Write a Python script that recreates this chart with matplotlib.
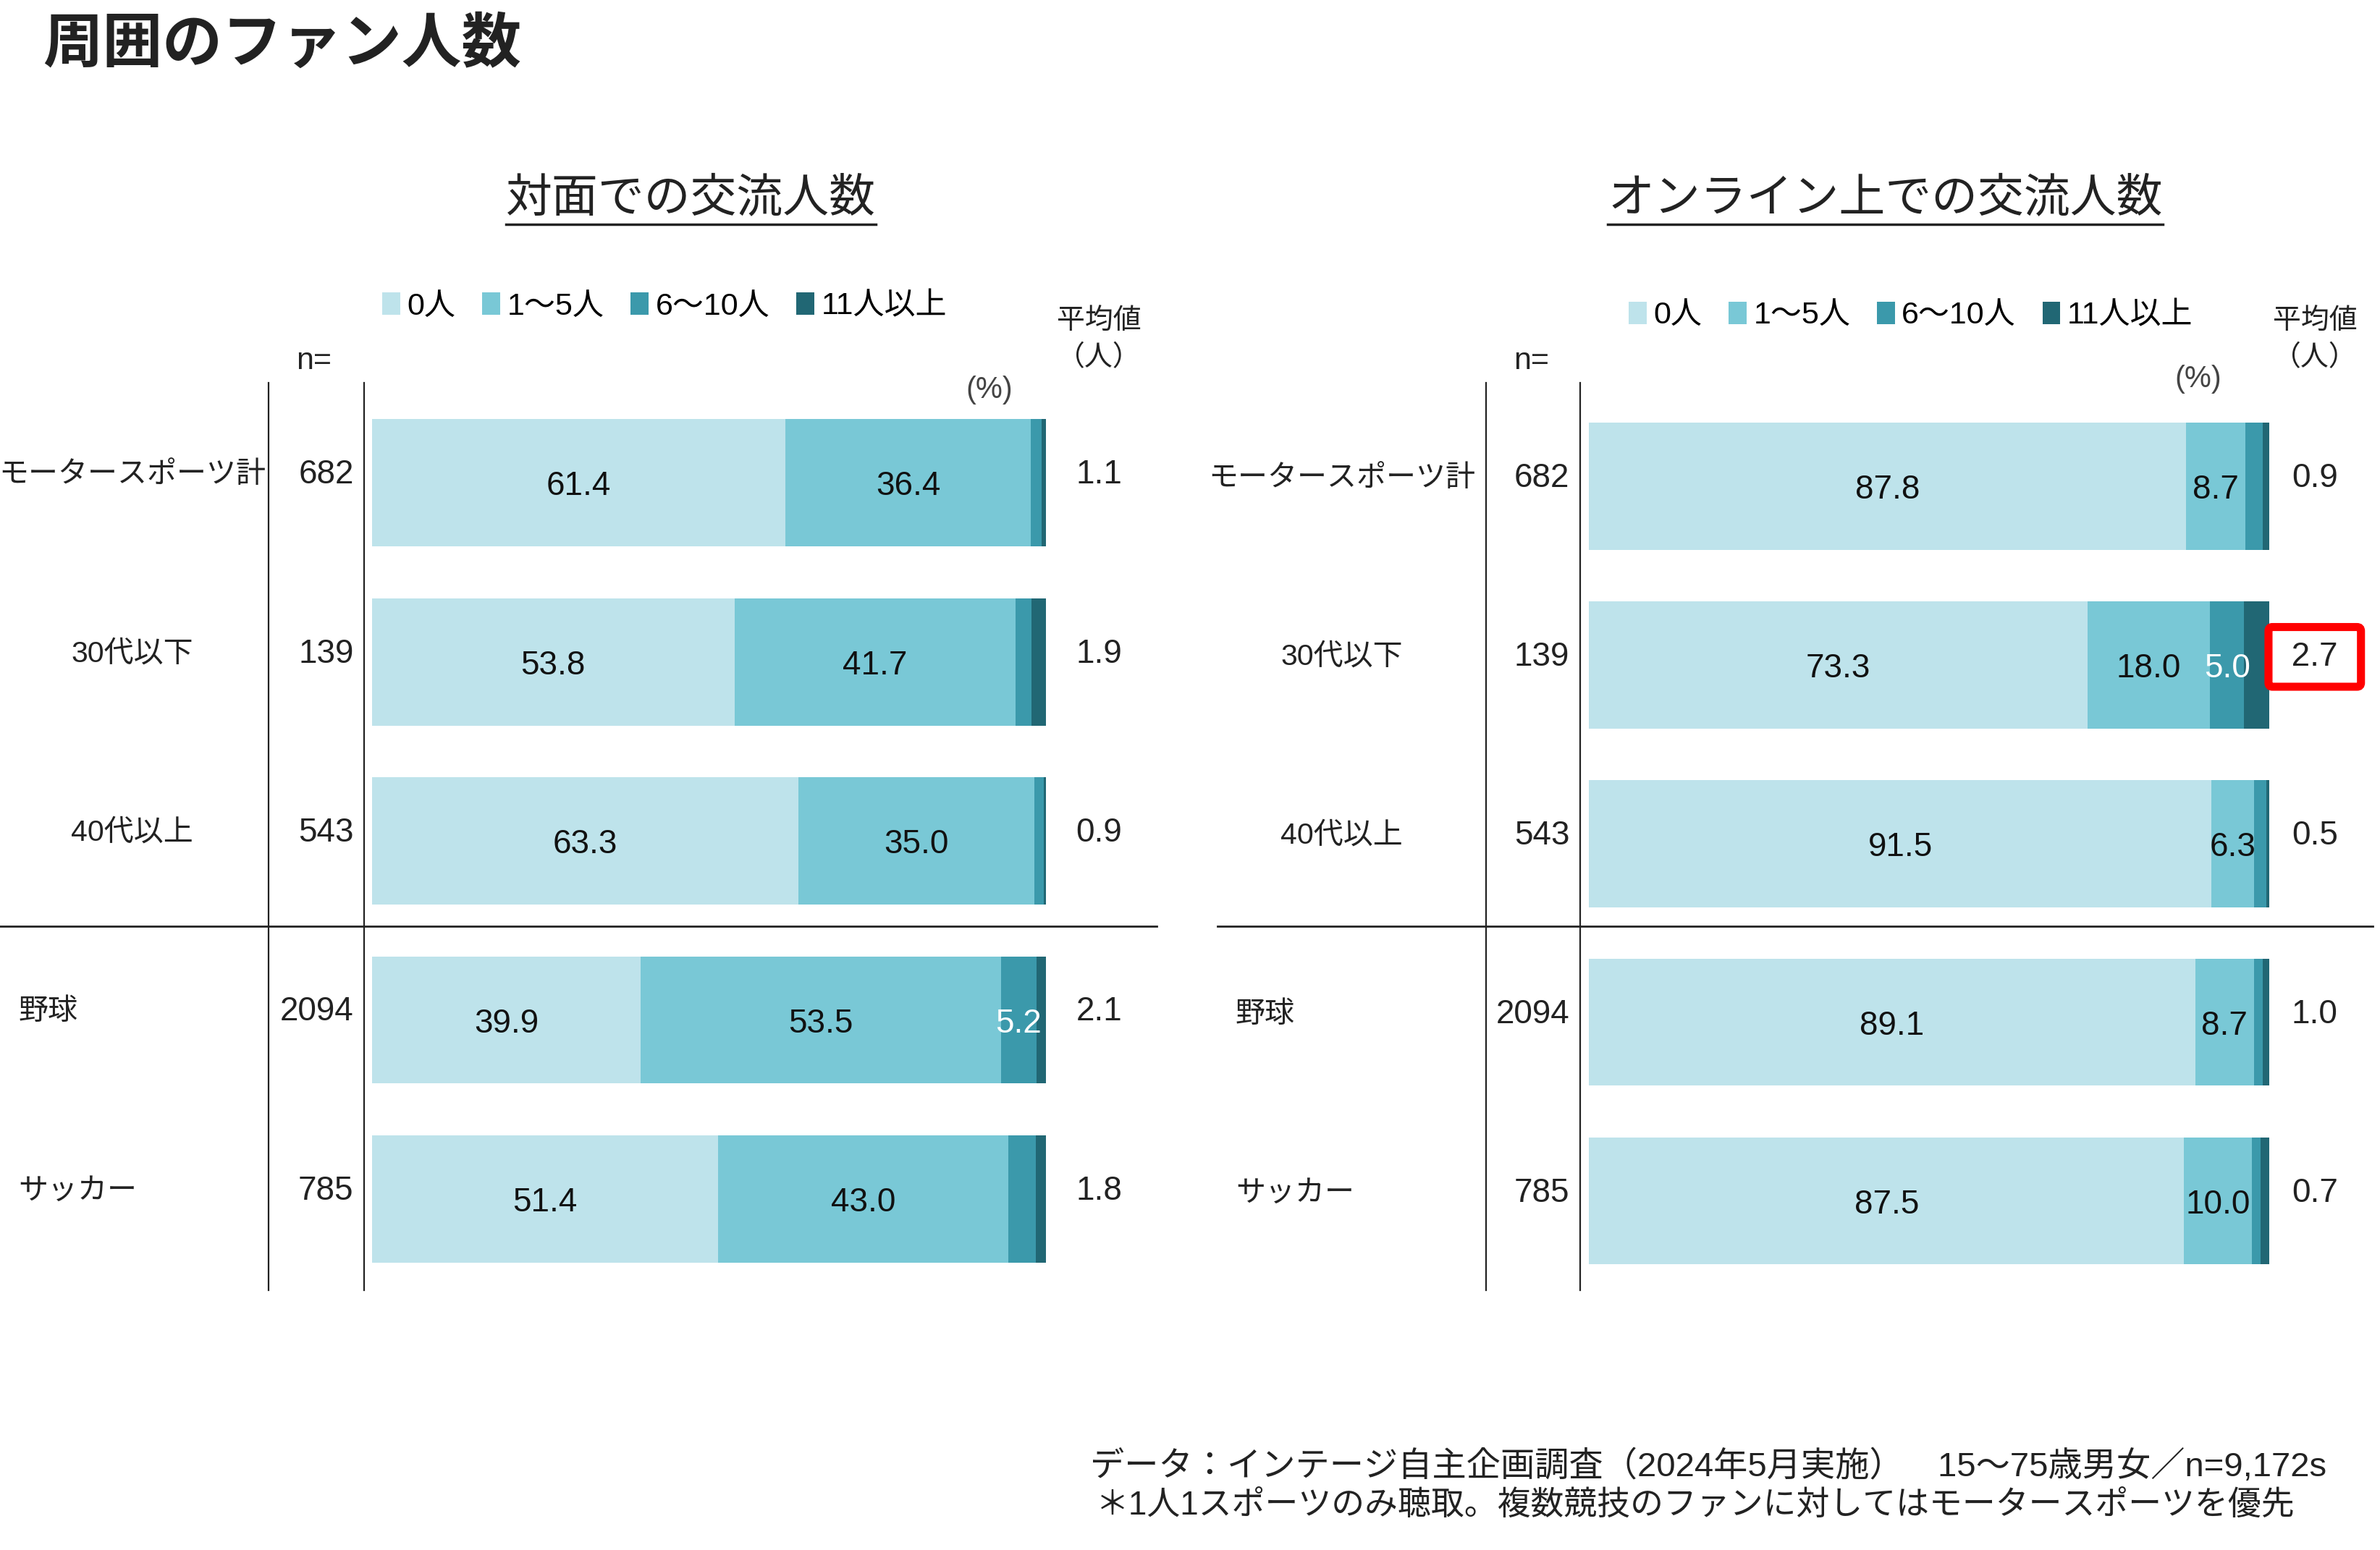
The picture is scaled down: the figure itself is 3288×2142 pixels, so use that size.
import numpy as np
import matplotlib
matplotlib.use("Agg")
import matplotlib.pyplot as plt
import matplotlib.transforms as mtrans
from matplotlib.lines import Line2D
from matplotlib.patches import Patch

plt.rcParams['font.family'] = ['Liberation Sans', 'Noto Sans CJK JP']

# ---- data ----
categories = ["モータースポーツ計", "30代以下", "40代以上", "野球", "サッカー"]
n_values = [682, 139, 543, 2094, 785]
legend_labels = ["0人", "1～5人", "6～10人", "11人以上"]

face_0 = [61.4, 53.8, 63.3, 39.9, 51.4]
face_1_5 = [36.4, 41.7, 35.0, 53.5, 43.0]
face_6_10 = [1.6, 2.4, 1.4, 5.2, 4.1]
face_11 = [0.6, 2.1, 0.3, 1.4, 1.5]
face_avg = [1.1, 1.9, 0.9, 2.1, 1.8]

online_0 = [87.8, 73.3, 91.5, 89.1, 87.5]
online_1_5 = [8.7, 18.0, 6.3, 8.7, 10.0]
online_6_10 = [2.5, 5.0, 1.8, 1.2, 1.2]
online_11 = [1.0, 3.7, 0.4, 1.0, 1.3]
online_avg = [0.9, 2.7, 0.5, 1.0, 0.7]

colors = ["#BEE3EB", "#79C8D6", "#3B99AB", "#216774"]
txt_colors = ["#111111", "#111111", "white", "white"]

# layout grid in pixels of the shrunk reference (1568 x 1021)
W, H = 1568, 1021
def fx(px): return px / W
def fy(py): return 1 - py / H

panels = [
    dict(title="対面での交流人数", series=[face_0, face_1_5, face_6_10, face_11], avg=face_avg,
         bar=(245, 689), sub_cx=455, leg=(252, 202), lab_cx=87, lab_left=12, v=(177, 240),
         n_eq=195, n_r=233, avg_cx=724, pct=(652, 257), hline=(0, 762), ylim=(4.51, -0.56),
         highlight=None),
    dict(title="オンライン上での交流人数", series=[online_0, online_1_5, online_6_10, online_11], avg=online_avg,
         bar=(1047, 1495), sub_cx=1242, leg=(1073, 208), lab_cx=884, lab_left=814, v=(979, 1041),
         n_eq=997, n_r=1034, avg_cx=1525, pct=(1448, 250), hline=(802, 1563), ylim=(4.50, -0.58),
         highlight=1),
]

fig = plt.figure(figsize=(32.88, 21.42), dpi=100)
fig.patch.set_facecolor("white")

fig.text(fx(28), fy(30), "周囲のファン人数", fontsize=59.5, fontweight="bold",
         color="#222222", ha="left", va="center")

y = np.arange(len(categories))
subtitles = []
for p in panels:
    x0, x1 = p["bar"]
    ax = fig.add_axes([fx(x0), fy(850), (x1 - x0) / W, (850 - 252) / H])
    ax.axis("off")

    left = np.zeros(len(categories))
    for vals, c, tc in zip(p["series"], colors, txt_colors):
        vals = np.array(vals)
        ax.barh(y, vals, left=left, height=0.71, color=c, edgecolor="none")
        for yi, v, l in zip(y, vals, left):
            if v >= 5:
                ax.text(l + v / 2, yi + 0.02, f"{v:.1f}", ha="center", va="center",
                        fontsize=33, color=tc)
        left += vals
    ax.set_xlim(0, 100)
    ax.set_ylim(*p["ylim"])

    tr = mtrans.blended_transform_factory(fig.transFigure, ax.transData)
    for i, (cat, n, a) in enumerate(zip(categories, n_values, p["avg"])):
        yy = i - 0.045
        if i < 3:
            ax.text(fx(p["lab_cx"]), yy, cat, transform=tr, ha="center", va="center",
                    fontsize=29.5, color="#222222")
        else:
            ax.text(fx(p["lab_left"]), yy, cat, transform=tr, ha="left", va="center",
                    fontsize=29.5, color="#222222")
        ax.text(fx(p["n_r"]), yy, str(n), transform=tr, ha="right", va="center",
                fontsize=33, color="#222222")
        kw = {}
        if p["highlight"] == i:
            kw["bbox"] = dict(boxstyle="round,pad=0.42,rounding_size=0.12",
                              fc="white", ec="#FF0000", lw=8)
        ax.text(fx(p["avg_cx"]), yy, f" {a:.1f} " if kw else f"{a:.1f}", transform=tr,
                ha="center", va="center", fontsize=33, color="#222222", **kw)

    # header texts
    fig.text(fx(p["n_eq"]), fy(238), "n=", fontsize=31, color="#222222", ha="left", va="center")
    fig.text(fx(p["avg_cx"]), fy(212), "平均値", fontsize=28, color="#222222", ha="center", va="center")
    fig.text(fx(p["avg_cx"]), fy(236), "（人）", fontsize=28, color="#222222", ha="center", va="center")
    fig.text(fx(p["pct"][0]), fy(p["pct"][1]), "(%)", fontsize=30, color="#444444",
             ha="center", va="center")

    # frame lines
    for vx in p["v"]:
        fig.add_artist(Line2D([fx(vx)] * 2, [fy(252), fy(850)], transform=fig.transFigure,
                              color="#222222", lw=1.6))
    fig.add_artist(Line2D([fx(p["hline"][0]), fx(p["hline"][1])], [fy(610)] * 2,
                          transform=fig.transFigure, color="#222222", lw=2))

    # legend
    handles = [Patch(facecolor=c, edgecolor="none") for c in colors]
    ax.legend(handles, legend_labels, loc="center left",
              bbox_to_anchor=(fx(p["leg"][0]), fy(p["leg"][1])), bbox_transform=fig.transFigure,
              ncol=4, frameon=False, fontsize=31, handlelength=0.58, handleheight=0.72,
              handletextpad=0.22, columnspacing=0.85, borderpad=0, borderaxespad=0)

    t = fig.text(fx(p["sub_cx"]), fy(131), p["title"], fontsize=46, color="#222222",
                 ha="center", va="center")
    subtitles.append(t)

# underline the panel titles
fig.canvas.draw()
inv = fig.transFigure.inverted()
for t in subtitles:
    bb = t.get_window_extent()
    (ax0, ay0), (ax1, ay1) = inv.transform([[bb.x0, bb.y0], [bb.x1, bb.y1]])
    fig.add_artist(Line2D([ax0, ax1], [fy(148)] * 2, transform=fig.transFigure,
                          color="#222222", lw=2.5))

fig.text(fx(718), fy(966), "データ：インテージ自主企画調査（2024年5月実施）　15～75歳男女／n=9,172s",
         fontsize=34, color="#222222", ha="left", va="center")
fig.text(fx(722), fy(992), "＊1人1スポーツのみ聴取。複数競技のファンに対してはモータースポーツを優先",
         fontsize=33, color="#222222", ha="left", va="center")

fig.savefig("out.png", dpi=100, facecolor="white")
